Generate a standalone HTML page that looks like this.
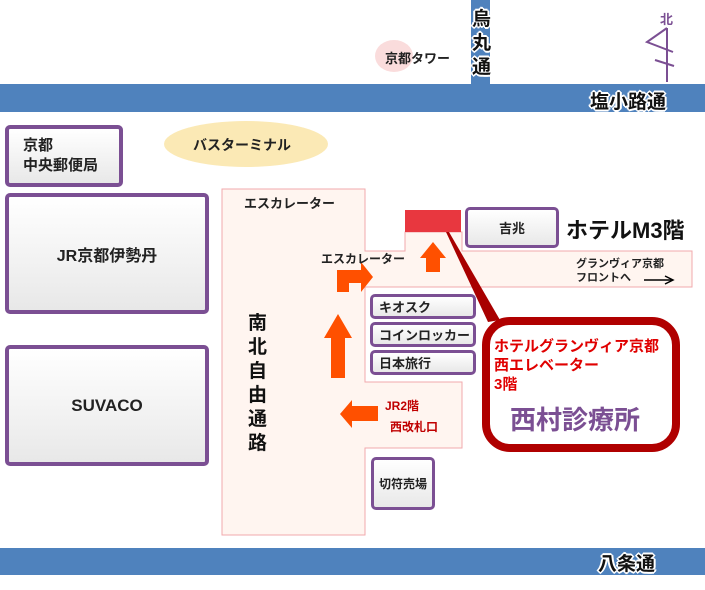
<!DOCTYPE html>
<html><head><meta charset="utf-8"><style>
body{margin:0;width:705px;height:590px;background:#fff;overflow:hidden;position:relative;font-family:"Liberation Sans","Noto Sans CJK JP",sans-serif;font-weight:bold}
.a{position:absolute}
.box{position:absolute;box-sizing:border-box;border:4px solid #7b4f93;border-radius:5px;background:linear-gradient(#fff,#e8e8e8);color:#222;display:flex;align-items:center;justify-content:center}
.sm{border-width:3px;font-size:13px;justify-content:flex-start;padding-left:6px}
.road{position:absolute;background:#4f82bd}
.wt{color:#111;text-shadow:-2px 0 #fff,2px 0 #fff,0 -2px #fff,0 2px #fff,-1px -1px #fff,1px 1px #fff,-1px 1px #fff,1px -1px #fff}
</style></head><body>
<div class="road" style="left:471px;top:0;width:19px;height:84px"></div>
<div class="road" style="left:0;top:84px;width:705px;height:28px"></div>
<div class="road" style="left:0;top:548px;width:705px;height:27px"></div>
<div class="a wt" style="left:472px;top:8px;font-size:19px;line-height:24px;width:20px">烏<br>丸<br>通</div>
<div class="a wt" style="left:590px;top:87px;font-size:19px">塩小路通</div>
<div class="a wt" style="left:598px;top:549px;font-size:19px">八条通</div>
<div class="a" style="left:375px;top:40px;width:38px;height:32px;border-radius:50%;background:#fadcdc"></div>
<div class="a" style="left:385px;top:48px;font-size:13px;color:#222">京都タワー</div>
<svg class="a" style="left:0;top:0" width="705" height="590">
<text x="660" y="24" font-size="13" fill="#7b4f93" font-weight="bold" font-family="Liberation Sans,Noto Sans CJK JP,sans-serif">北</text>
<polyline points="667,28 667,82" stroke="#7b4f93" stroke-width="2" fill="none"/>
<polyline points="667,28 647,42 673,52" stroke="#7b4f93" stroke-width="2" fill="none"/>
<line x1="655" y1="60" x2="674" y2="66" stroke="#7b4f93" stroke-width="2"/>
<ellipse cx="246" cy="144" rx="82" ry="23" fill="#fbe9b5"/>
<polygon points="222,189 365,189 365,251 405,251 405,232 462,232 462,251 692,251 692,287 365,287 365,382 462,382 462,448 365,448 365,535 222,535" fill="#fff5f0" stroke="#f2a9ad" stroke-width="1"/>
<rect x="405" y="210" width="56" height="22" fill="#e8373f"/>
<polygon points="446,232 449,232 500,320 488,322" fill="#a80000"/>
<rect x="486" y="321" width="190" height="127" rx="24" fill="#fff" stroke="#b00000" stroke-width="8"/>
<polygon points="337,292 337,270 361,270 361,262 373,277 361,292 361,283 349,283 349,292" fill="#ff5000"/>
<polygon points="420,258 433,242 446,258 440,258 440,272 426,272 426,258" fill="#ff5000"/>
<polygon points="324,338 338,314 352,338 345,338 345,378 331,378 331,338" fill="#ff5000"/>
<polygon points="340,414 352,400 352,406 378,406 378,421 352,421 352,428" fill="#ff5000"/>
<line x1="644" y1="280" x2="672" y2="280" stroke="#000" stroke-width="1.5"/>
<polyline points="665,276 673,280 665,284" stroke="#000" stroke-width="1.5" fill="none"/>
</svg>
<div class="a" style="left:193px;top:135px;font-size:14px;color:#222">バスターミナル</div>
<div class="box" style="left:5px;top:125px;width:118px;height:62px;justify-content:flex-start;padding-left:14px;font-size:15px;line-height:20px">京都<br>中央郵便局</div>
<div class="box" style="left:5px;top:193px;width:204px;height:121px;font-size:16px">JR京都伊勢丹</div>
<div class="box" style="left:5px;top:345px;width:204px;height:121px;font-size:17px">SUVACO</div>
<div class="a" style="left:244px;top:193px;font-size:13px;color:#222">エスカレーター</div>
<div class="a" style="left:321px;top:250px;font-size:12px;color:#222">エスカレーター</div>
<div class="a" style="left:248px;top:312px;font-size:19px;line-height:24px;color:#111;width:22px">南<br>北<br>自<br>由<br>通<br>路</div>
<div class="box sm" style="left:370px;top:294px;width:106px;height:25px">キオスク</div>
<div class="box sm" style="left:370px;top:322px;width:106px;height:25px">コインロッカー</div>
<div class="box sm" style="left:370px;top:350px;width:106px;height:25px">日本旅行</div>
<div class="box" style="left:371px;top:457px;width:64px;height:53px;border-width:3px;font-size:12px">切符売場</div>
<div class="a" style="left:385px;top:397px;font-size:12px;color:#c00000">JR2階</div>
<div class="a" style="left:390px;top:418px;font-size:12px;color:#c00000">西改札口</div>
<div class="box" style="left:465px;top:207px;width:94px;height:41px;border-width:3px;font-size:13px">吉兆</div>
<div class="a" style="left:566px;top:213px;font-size:22px;color:#111">ホテルM3階</div>
<div class="a" style="left:576px;top:257px;font-size:11px;line-height:14px;color:#222">グランヴィア京都<br>フロントへ</div>
<div class="a" style="left:494px;top:337px;font-size:15px;line-height:19px;color:#e00000">ホテルグランヴィア京都<br>西エレベーター<br>3階</div>
<div class="a" style="left:510px;top:400px;font-size:26px;color:#7b4f93">西村診療所</div>
</body></html>
